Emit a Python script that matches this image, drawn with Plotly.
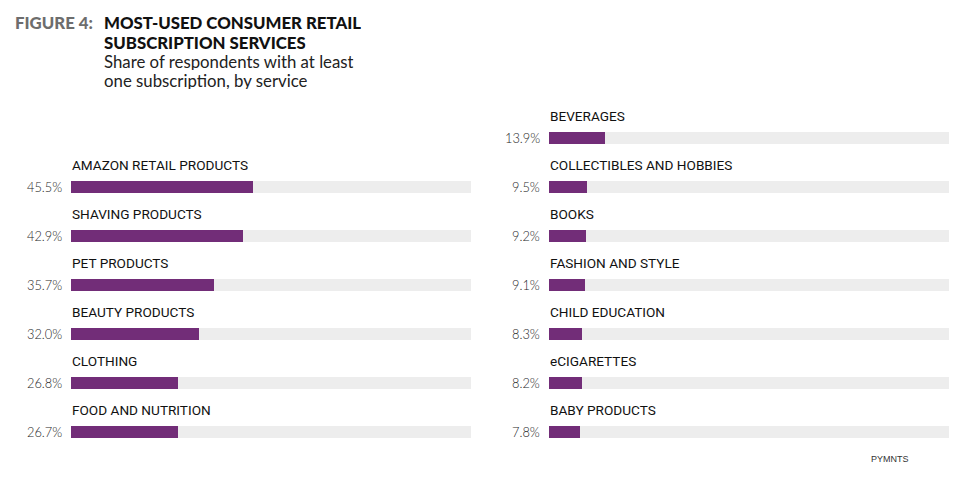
import plotly.graph_objects as go

left_labels = ["AMAZON RETAIL PRODUCTS", "SHAVING PRODUCTS", "PET PRODUCTS",
               "BEAUTY PRODUCTS", "CLOTHING", "FOOD AND NUTRITION"]
left_values = [45.5, 42.9, 35.7, 32.0, 26.8, 26.7]
right_labels = ["BEVERAGES", "COLLECTIBLES AND HOBBIES", "BOOKS", "FASHION AND STYLE",
                "CHILD EDUCATION", "eCIGARETTES", "BABY PRODUCTS"]
right_values = [13.9, 9.5, 9.2, 9.1, 8.3, 8.2, 7.8]

OFF = 8                       # page body margin
W, H = 974 - 2 * OFF, 483 - 2 * OFF
PURPLE = "#722d78"
TRACK = "#ededed"


def px(x):
    return (x - OFF) / W


def py(y):
    return 1 - (y - OFF) / H


ROW0, STEP = 138 - OFF, 49    # pixel centre of first row and row pitch
left_rows = list(range(1, 1 + len(left_values)))
right_rows = list(range(len(right_values)))
yr = [(H - ROW0) / STEP, -ROW0 / STEP]
bw = 12 / STEP

fig = go.Figure()
for rows, vals, xa in [(left_rows, left_values, "x"), (right_rows, right_values, "x2")]:
    fig.add_trace(go.Bar(x=[100] * len(vals), y=rows, orientation="h", width=bw,
                         marker=dict(color=TRACK, line_width=0), xaxis=xa, yaxis="y",
                         hoverinfo="skip", showlegend=False))
    fig.add_trace(go.Bar(x=vals, y=rows, orientation="h", width=bw,
                         marker=dict(color=PURPLE, line_width=0), xaxis=xa, yaxis="y",
                         showlegend=False))

ann = []
label_font = dict(family="Roboto", size=13.6, color="#111111")
val_font = dict(family="Lato", size=12.8, color="#1f1f1f", weight=300)
for rows, vals, labs, xa, x0 in [(left_rows, left_values, left_labels, "x", 71),
                                 (right_rows, right_values, right_labels, "x2", 549)]:
    for r, v, l in zip(rows, vals, labs):
        ann.append(dict(x=0, y=r - 22 / STEP, xref=xa, yref="y", text=l, showarrow=False,
                        xanchor="left", yanchor="middle", font=label_font, xshift=-1))
        ann.append(dict(x=px(x0 - 7), y=r, xref="paper", yref="y", text=f"{v:.1f}%",
                        showarrow=False, xanchor="right", yanchor="middle", font=val_font))

title_font = dict(family="Lato", size=16.8, weight=900)
sub_font = dict(family="Lato", size=16.8, color="#222222")
ann += [
    dict(x=px(13), y=py(22), xref="paper", yref="paper", text="FIGURE 4:", showarrow=False,
         xanchor="left", yanchor="middle", font=dict(title_font, color="#6d6d6d"), height=19),
    dict(x=px(102), y=py(22), xref="paper", yref="paper", text="MOST-USED CONSUMER RETAIL",
         showarrow=False, xanchor="left", yanchor="middle", font=dict(title_font, color="#111111"),
         height=19),
    dict(x=px(102), y=py(42), xref="paper", yref="paper", text="SUBSCRIPTION SERVICES",
         showarrow=False, xanchor="left", yanchor="middle", font=dict(title_font, color="#111111"),
         height=19),
    dict(x=px(102), y=py(62), xref="paper", yref="paper", text="Share of respondents with at least",
         showarrow=False, xanchor="left", yanchor="middle", font=sub_font, height=17),
    dict(x=px(102), y=py(80), xref="paper", yref="paper", text="one subscription, by service",
         showarrow=False, xanchor="left", yanchor="middle", font=sub_font, height=17),
    dict(x=px(890), y=py(459), xref="paper", yref="paper", text="PYMNTS", showarrow=False,
         xanchor="center", yanchor="middle", font=dict(family="Liberation Sans", size=9, color="#333333")),
]

axis_common = dict(range=[0, 100], showgrid=False, zeroline=False, showticklabels=False,
                   showline=False, fixedrange=True)
fig.update_layout(
    width=W, height=H, margin=dict(l=0, r=0, t=0, b=0),
    paper_bgcolor="white", plot_bgcolor="white", barmode="overlay", bargap=0,
    xaxis=dict(domain=[px(71), px(471)], **axis_common),
    xaxis2=dict(domain=[px(549), px(949)], anchor="y", **axis_common),
    yaxis=dict(range=yr, domain=[0, 1], showgrid=False, zeroline=False, showticklabels=False,
               fixedrange=True),
    annotations=ann,
)
fig.write_html("out.html")
